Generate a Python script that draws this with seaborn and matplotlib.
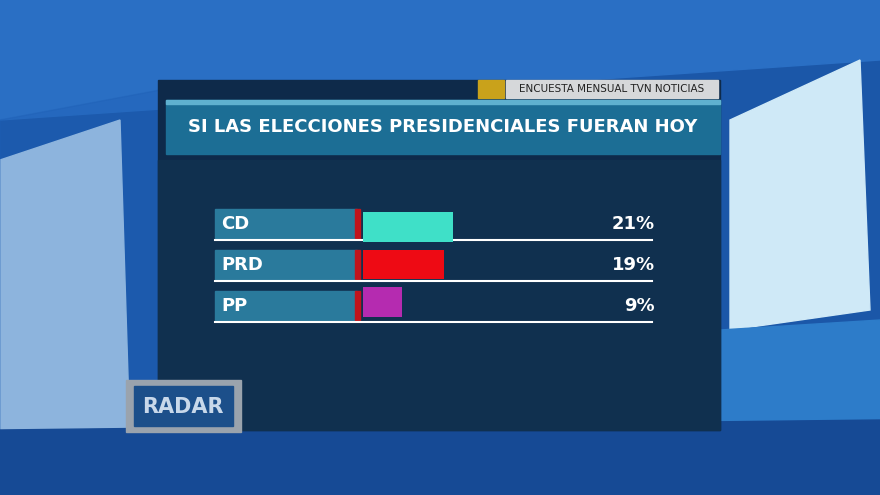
import matplotlib
matplotlib.use("Agg")
import matplotlib.pyplot as plt
import seaborn as sns
import pandas as pd
from matplotlib.patches import Rectangle, Polygon, FancyBboxPatch

parties = ["CD", "PRD", "PP"]
values = [21, 19, 9]
labels = ["21%", "19%", "9%"]
colors = ["#3fe0c8", "#ee0a14", "#b52bb0"]
title = "SI LAS ELECCIONES PRESIDENCIALES FUERAN HOY"
source = "ENCUESTA MENSUAL TVN NOTICIAS"

W, H = 880, 495
fig = plt.figure(figsize=(8.8, 4.95), dpi=100)
bg = fig.add_axes([0, 0, 1, 1])
bg.set_xlim(0, W); bg.set_ylim(H, 0); bg.axis("off")

# background
bg.add_patch(Rectangle((0, 0), W, H, color="#1b57a8"))
bg.add_patch(Polygon([[0, 0], [880, 0], [880, 60], [0, 120]], color="#2a6fc4"))
bg.add_patch(Polygon([[0, 160], [120, 120], [130, 440], [0, 470]], color="#d8eef8"))
bg.add_patch(Polygon([[730, 120], [860, 60], [870, 310], [730, 330]], color="#cfe9f7"))
bg.add_patch(Polygon([[0, 120], [160, 90], [160, 440], [0, 480]], color="#1e5fb5", alpha=0.4))
bg.add_patch(Polygon([[720, 330], [880, 320], [880, 495], [720, 495]], color="#2d7cc9"))
bg.add_patch(Polygon([[0, 430], [880, 420], [880, 495], [0, 495]], color="#164a95"))

# panel
bg.add_patch(Rectangle((158, 80), 562, 350, color="#0e2a4a"))
bg.add_patch(Rectangle((158, 160), 562, 270, color="#10304f"))
# source tag
bg.add_patch(Rectangle((478, 80), 26, 18, color="#c9a21b"))
bg.add_patch(Rectangle((506, 80), 212, 18, color="#d6d8da"))
bg.text(612, 89, source, ha="center", va="center", fontsize=7.5, color="#222", family="DejaVu Sans")
# title bar
bg.add_patch(Rectangle((166, 100), 554, 54, color="#1c6e95"))
bg.add_patch(Rectangle((166, 100), 554, 4, color="#5fb1cf"))
bg.text(443, 127, title, ha="center", va="center", fontsize=13, fontweight="bold",
        color="white", family="DejaVu Sans")

# rows
tops = [209, 250, 291]
for p, t, lab in zip(parties, tops, labels):
    bg.add_patch(Rectangle((215, t), 142, 29, color="#2a7a9c"))
    bg.add_patch(Rectangle((355, t), 5, 29, color="#c0141c"))
    bg.plot([215, 652], [t + 31, t + 31], color="white", lw=1.5)
    bg.text(221, t + 15, p, ha="left", va="center", fontsize=13, fontweight="bold", color="white")
    bg.text(655, t + 15, lab, ha="right", va="center", fontsize=13, fontweight="bold", color="white")

# RADAR logo
bg.add_patch(Rectangle((126, 380), 115, 52, color="#9aa3ad"))
bg.add_patch(Rectangle((134, 386), 99, 40, color="#1c4f8a"))
bg.text(183, 407, "RADAR", ha="center", va="center", fontsize=15, fontweight="bold", color="#c8d8ea")

# bars
axw = 290
ax = fig.add_axes([363 / W, 1 - 321 / H, axw / W, (321 - 208) / H])
df = pd.DataFrame({"party": parties, "value": values})
sns.barplot(data=df, x="value", y="party", hue="party", palette=colors, orient="h",
            width=0.78, legend=False, ax=ax, saturation=1)
ax.set_xlim(0, 21 * axw / 90)
ax.axis("off")
ax.patch.set_alpha(0)

fig.savefig("out.png", dpi=100)
